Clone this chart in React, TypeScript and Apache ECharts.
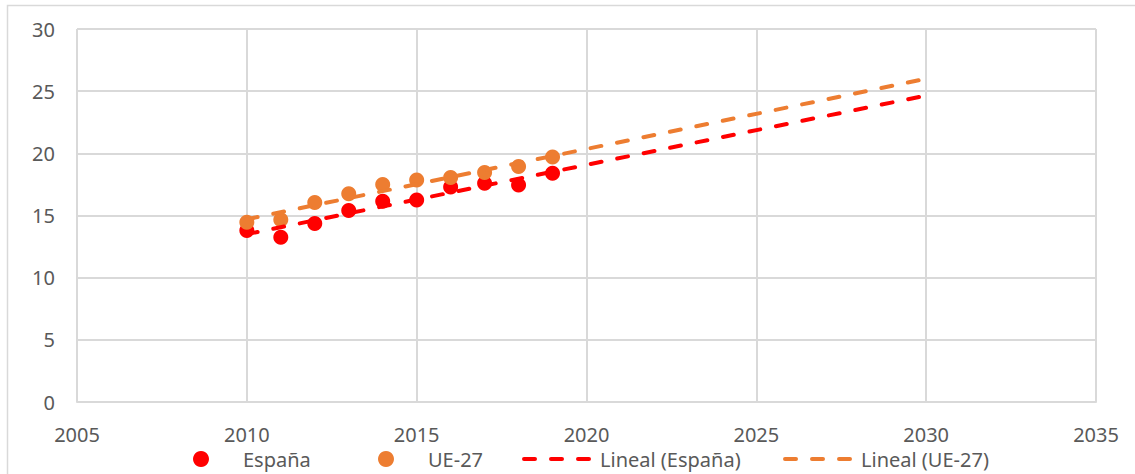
import React, { useEffect, useRef } from "react";
import * as echarts from "echarts";

const years = [2010, 2011, 2012, 2013, 2014, 2015, 2016, 2017, 2018, 2019];
const espana = [13.8, 13.25, 14.35, 15.4, 16.15, 16.25, 17.3, 17.6, 17.45, 18.4];
const ue27 = [14.45, 14.65, 16.05, 16.75, 17.5, 17.85, 18.05, 18.45, 18.95, 19.7];
const trendYears = [2010, 2030];
const trendEspana = [13.5, 24.65];
const trendUe27 = [14.7, 26.0];

const RED = "#FF0000";
const ORANGE = "#ED7D31";
const GRID = "#D9D9D9";
const TEXT = "#595959";
const FONT = "'Noto Sans', sans-serif";

export default function App() {
  const ref = useRef<HTMLDivElement>(null);
  useEffect(() => {
    if (!ref.current) return;
    const chart = echarts.init(ref.current, null, { renderer: "svg" });
    const pair = (xs: number[], ys: number[]) => xs.map((x, i) => [x, ys[i]]);
    const legendBase = {
      top: 449,
      padding: 0,
      itemHeight: 16,
      textStyle: { color: TEXT, fontSize: 20, fontFamily: FONT },
      selectedMode: false,
    };
    chart.setOption({
      animation: false,
      backgroundColor: "#FFFFFF",
      grid: { left: 77, right: 39, top: 29, bottom: 72, containLabel: false },
      xAxis: {
        type: "value",
        min: 2005,
        max: 2035,
        interval: 5,
        axisLine: { show: true, lineStyle: { color: GRID, width: 2 } },
        axisTick: { show: false },
        axisLabel: {
          color: TEXT,
          fontSize: 20,
          fontFamily: FONT,
          margin: 22,
          formatter: (v: number) => String(v),
        },
        splitLine: { show: true, lineStyle: { color: GRID, width: 2 } },
      },
      yAxis: {
        type: "value",
        min: 0,
        max: 30,
        interval: 5,
        axisLine: { show: false },
        axisTick: { show: false },
        axisLabel: { color: TEXT, fontSize: 20, fontFamily: FONT, margin: 22 },
        splitLine: { show: true, lineStyle: { color: GRID, width: 2 } },
      },
      legend: [
        { ...legendBase, left: 193, itemWidth: 74, data: [{ name: "España", icon: "circle" }] },
        { ...legendBase, left: 378, itemWidth: 74, data: [{ name: "UE-27", icon: "circle" }] },
        {
          ...legendBase,
          left: 522,
          itemWidth: 71,
          itemStyle: { opacity: 0 },
          lineStyle: { width: 4 },
          data: ["Lineal (España)"],
        },
        {
          ...legendBase,
          left: 783,
          itemWidth: 71,
          itemStyle: { opacity: 0 },
          lineStyle: { width: 4 },
          data: ["Lineal (UE-27)"],
        },
      ],
      graphic: [
        {
          type: "polyline",
          shape: { points: [[7.5, 474], [7.5, 5.5], [1135, 5.5]] },
          style: { stroke: GRID, lineWidth: 1.5, fill: "none" },
          silent: true,
        },
      ],
      series: [
        {
          name: "España",
          type: "scatter",
          symbol: "circle",
          symbolSize: 15,
          itemStyle: { color: RED, opacity: 1 },
          data: pair(years, espana),
          z: 2,
        },
        {
          name: "UE-27",
          type: "scatter",
          symbol: "circle",
          symbolSize: 15,
          itemStyle: { color: ORANGE, opacity: 1 },
          data: pair(years, ue27),
          z: 2,
        },
        {
          name: "Lineal (España)",
          type: "line",
          symbol: "none",
          showSymbol: false,
          lineStyle: { color: RED, width: 4, type: [11, 16], cap: "round" },
          itemStyle: { color: RED },
          data: pair(trendYears, trendEspana),
          z: 3,
        },
        {
          name: "Lineal (UE-27)",
          type: "line",
          symbol: "none",
          showSymbol: false,
          lineStyle: { color: ORANGE, width: 4, type: [11, 16], cap: "round" },
          itemStyle: { color: ORANGE },
          data: pair(trendYears, trendUe27),
          z: 3,
        },
      ],
    });
    return () => chart.dispose();
  }, []);
  return (
    <div
      ref={ref}
      style={{ position: "fixed", left: 0, top: 0, width: 1135, height: 474 }}
    />
  );
}
